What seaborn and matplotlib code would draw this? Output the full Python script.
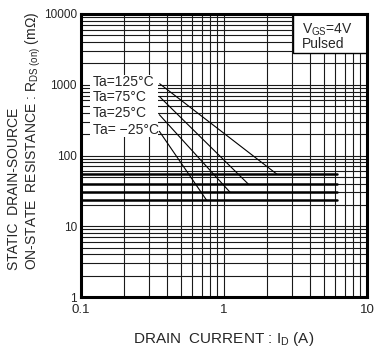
import matplotlib
matplotlib.use("Agg")
import matplotlib.pyplot as plt
from matplotlib.patches import Rectangle
from matplotlib.ticker import FixedLocator, FixedFormatter, NullFormatter, LogLocator
import seaborn as sns
import pandas as pd
import numpy as np

# ---- data ----
temps = ["Ta=125°C", "Ta=75°C", "Ta=25°C", "Ta= −25°C"]
id_start = [0.355, 0.353, 0.353, 0.353]      # A, start of the sloped part
rds_start = [1033, 684, 378, 220]            # mOhm at start
id_knee = [2.34, 1.48, 1.10, 0.757]          # A, where slope meets flat
rds_flat = [54.6, 39.4, 30.4, 23.2]          # mOhm, flat level
id_flat_start = 0.1
id_flat_end = 6.2

x_ticks = [0.1, 1, 10]
x_ticklabels = ["0.1", "1", "10"]
y_ticks = [1, 10, 100, 1000, 10000]
y_ticklabels = ["1", "10", "100", "1000", "10000"]

sns.set_style("white")
plt.rcParams["font.family"] = ["Liberation Sans", "DejaVu Sans"]
plt.rcParams["mathtext.fontset"] = "custom"
plt.rcParams["mathtext.rm"] = "Liberation Sans"
plt.rcParams["mathtext.it"] = "Liberation Sans"

slope_rows = []
flat_rows = []
for t, xs, ys, xk, yf in zip(temps, id_start, rds_start, id_knee, rds_flat):
    slope_rows += [(t, xs, ys), (t, xk, yf)]
    flat_rows += [(t, id_flat_start, yf), (t, id_flat_end, yf)]
df_slope = pd.DataFrame(slope_rows, columns=["temp", "id", "rds"])
df_flat = pd.DataFrame(flat_rows, columns=["temp", "id", "rds"])

fig = plt.figure(figsize=(3.74, 3.47), dpi=100)
ax = fig.add_axes([81 / 374, 1 - 297 / 347, 286 / 374, 283 / 347])
ax.set_xscale("log")
ax.set_yscale("log")
ax.set_xlim(0.1, 10)
ax.set_ylim(1, 10000)

ax.xaxis.set_minor_locator(LogLocator(base=10, subs=np.arange(2, 10)))
ax.yaxis.set_minor_locator(LogLocator(base=10, subs=np.arange(2, 10)))
ax.grid(True, which="both", color="#1a1a1a", linewidth=0.8)
ax.set_axisbelow(True)

sns.lineplot(data=df_flat, x="id", y="rds", units="temp", estimator=None,
             color="black", linewidth=1.8, ax=ax, sort=False, zorder=4)
sns.lineplot(data=df_slope, x="id", y="rds", units="temp", estimator=None,
             color="black", linewidth=0.8, ax=ax, sort=False, zorder=4)

ax.xaxis.set_major_locator(FixedLocator(x_ticks))
ax.xaxis.set_major_formatter(FixedFormatter(x_ticklabels))
ax.xaxis.set_minor_formatter(NullFormatter())
ax.yaxis.set_major_locator(FixedLocator(y_ticks))
ax.yaxis.set_major_formatter(FixedFormatter(y_ticklabels))
ax.yaxis.set_minor_formatter(NullFormatter())
ax.tick_params(axis="both", which="both", length=0)
ax.tick_params(axis="x", labelsize=9.5, pad=5)
ax.tick_params(axis="y", labelsize=8.5, pad=3)

for s in ax.spines.values():
    s.set_visible(True)
    s.set_color("black")
    s.set_linewidth(2.2)
    s.set_zorder(6)

ax.set_xlabel(r"DRAIN  CURRENT : I$_{\mathrm{D}}$ (A)", fontsize=11)
ax.xaxis.set_label_coords(0.5, -0.115)
ax.set_ylabel("STATIC  DRAIN-SOURCE\n" + r"ON-STATE  RESISTANCE : R$_{\mathrm{DS\ (on)}}$ (m$\Omega$)",
              fontsize=10, multialignment="left")
ax.yaxis.set_label_coords(-0.132, 0.552)

# label block for temperatures
ax.add_patch(Rectangle((0.031, 0.565), 0.238, 0.219, transform=ax.transAxes,
                       facecolor="white", edgecolor="none", zorder=3))
for t, yy in zip(temps, [0.760, 0.708, 0.650, 0.590]):
    ax.text(0.042, yy, t, transform=ax.transAxes, fontsize=10, va="center",
            ha="left", zorder=5)

# condition box
ax.add_patch(Rectangle((0.741, 0.862), 0.259, 0.138, transform=ax.transAxes,
                       facecolor="white", edgecolor="black", linewidth=1.0, zorder=5))
ax.text(0.773, 0.945, r"V$_{\mathrm{GS}}$=4V", transform=ax.transAxes, fontsize=10,
        va="center", ha="left", zorder=6)
ax.text(0.773, 0.895, "Pulsed", transform=ax.transAxes, fontsize=10,
        va="center", ha="left", zorder=6)

fig.savefig("out.png", dpi=100)
